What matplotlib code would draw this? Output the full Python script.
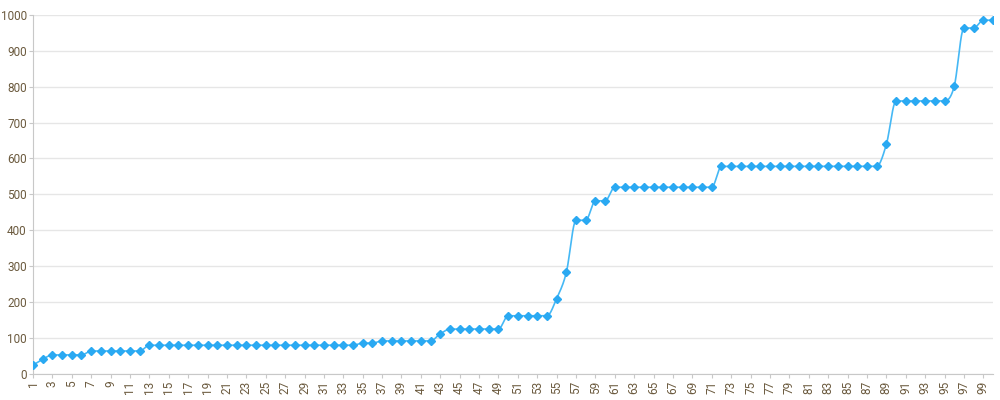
import numpy as np
import matplotlib
matplotlib.use("Agg")
import matplotlib.pyplot as plt

categories = list(range(1, 101))
values = [25, 41, 53, 53, 53, 53, 64, 64, 64, 64,
          64, 64, 80, 80, 80, 80, 80, 80, 80, 80,
          80, 80, 80, 80, 80, 80, 80, 80, 80, 80,
          80, 80, 80, 80, 86, 86, 92, 92, 92, 92,
          92, 92, 112, 125, 125, 125, 125, 125, 125, 162,
          162, 162, 162, 162, 210, 283, 428, 428, 482, 482,
          520, 520, 520, 520, 520, 520, 520, 520, 520, 520,
          520, 578, 578, 578, 578, 578, 578, 578, 578, 578,
          578, 578, 578, 578, 578, 578, 578, 578, 639, 760,
          760, 760, 760, 760, 760, 801, 963, 963, 985, 985]
x_tick_labels = [str(i) for i in range(1, 100, 2)]
y_ticks = list(range(0, 1001, 100))


def monotone_cubic(x, y, n=20):
    x = np.asarray(x, float)
    y = np.asarray(y, float)
    h = np.diff(x)
    d = np.diff(y) / h
    m = np.zeros_like(y)
    m[0] = d[0]
    m[-1] = d[-1]
    for i in range(1, len(y) - 1):
        if d[i - 1] * d[i] <= 0:
            m[i] = 0
        else:
            m[i] = (d[i - 1] + d[i]) / 2
    for i in range(len(d)):
        if d[i] == 0:
            m[i] = 0
            m[i + 1] = 0
        else:
            a = m[i] / d[i]
            b = m[i + 1] / d[i]
            s = a * a + b * b
            if s > 9:
                t = 3 / np.sqrt(s)
                m[i] = t * a * d[i]
                m[i + 1] = t * b * d[i]
    xs, ys = [], []
    for i in range(len(d)):
        t = np.linspace(0, 1, n, endpoint=False)
        h00 = 2 * t**3 - 3 * t**2 + 1
        h10 = t**3 - 2 * t**2 + t
        h01 = -2 * t**3 + 3 * t**2
        h11 = t**3 - t**2
        xs.append(x[i] + t * h[i])
        ys.append(h00 * y[i] + h10 * h[i] * m[i] + h01 * y[i + 1] + h11 * h[i] * m[i + 1])
    xs.append([x[-1]])
    ys.append([y[-1]])
    return np.concatenate(xs), np.concatenate(ys)


plt.rcParams['font.family'] = ['Roboto', 'DejaVu Sans']
fig = plt.figure(figsize=(10, 4), dpi=100)
ax = fig.add_axes([0.033, 0.065, 0.96, 0.898])

sx, sy = monotone_cubic(categories, values)
ax.plot(sx, sy, color='#45b8f5', lw=1.2, zorder=3)
ax.plot(categories, values, ls='none', marker='D', ms=4,
        color='#2aa9f2', mec='#2aa9f2', zorder=4)

ax.set_xlim(1, 100)
ax.set_ylim(0, 1000)
ax.set_yticks(y_ticks)
ax.set_yticklabels([str(v) for v in y_ticks])
ax.set_xticks(list(range(1, 100, 2)))
ax.set_xticklabels(x_tick_labels, rotation=90)

ax.grid(axis='y', color='#e6e6e6', lw=1)
ax.set_axisbelow(True)
for s in ['top', 'right']:
    ax.spines[s].set_visible(False)
for s in ['left', 'bottom']:
    ax.spines[s].set_color('#c8c8c8')
ax.tick_params(axis='both', colors='#c8c8c8', labelcolor='#6b5a3e',
               labelsize=8.5, length=3, pad=1.5)

fig.savefig('out.png', dpi=100, facecolor='white')
